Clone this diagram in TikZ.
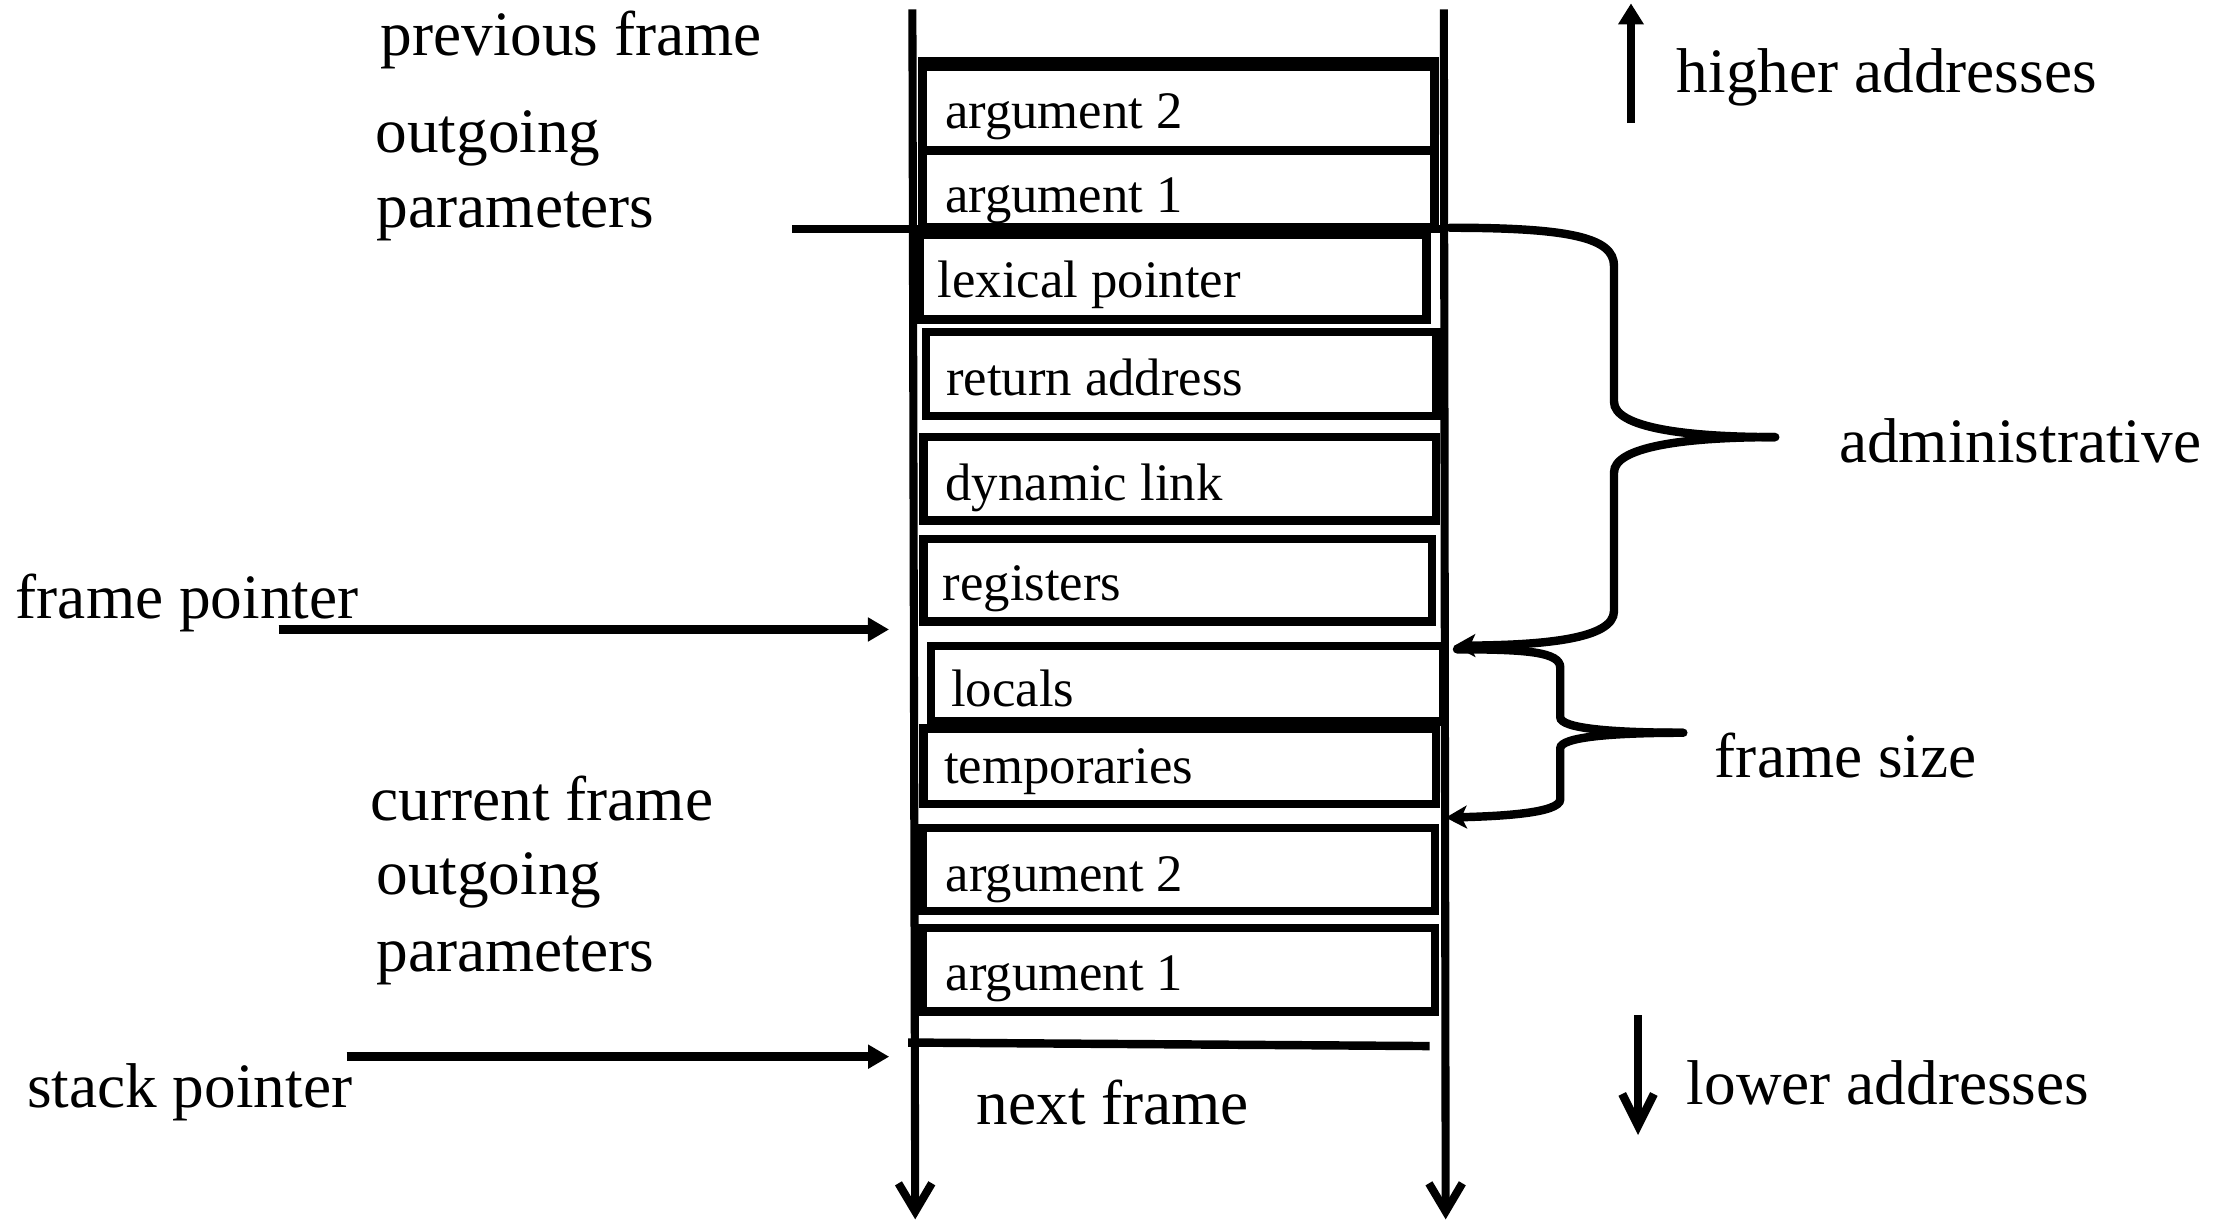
\documentclass[tikz,border=0pt]{standalone}
\usepackage{fontspec}
\setmainfont{Liberation Serif}
\usetikzlibrary{arrows.meta}
\begin{document}
\begin{tikzpicture}[x=0.014145cm,y=-0.014145cm,
  rail/.style={line width=2.3pt,-{Straight Barb[length=8pt,width=9.5pt]}},
  boxline/.style={line width=2.4pt},
  bigtxt/.style={font=\fontsize{18}{21}\selectfont, inner sep=0pt, anchor=base west},
  boxtxt/.style={font=\fontsize{15}{18}\selectfont, inner sep=0pt, anchor=base west},
  ptr/.style={line width=2.4pt,-{Triangle[length=6pt,width=6.5pt]}},
  brace/.style={line width=2.4pt,line cap=round},
  bracetip/.style={line width=2.4pt,-{Stealth[length=6pt,width=6.5pt,inset=1.5pt]}}
]
\useasboundingbox (0,0) rectangle (1568,864);

% rails
\coordinate (railLtop) at (645,6.6);
\coordinate (railLbot) at (647,862);
\coordinate (railRtop) at (1020.7,6.6);
\coordinate (railRbot) at (1022,862);
\draw[rail] (railLtop) -- (railLbot);
\draw[rail] (railRtop) -- (railRbot);

% frame slots
\draw[boxline] (649,43) -- (1017,43);
\draw[boxline] (652,47) rectangle (1014,106.5);
\draw[boxline] (652,106.5) rectangle (1014,160.5);
\draw[boxline] (650,166) rectangle (1008.5,226);
\draw[boxline] (654.5,234.5) rectangle (1015.5,294);
\draw[boxline] (653,309) rectangle (1015,368);
\draw[boxline] (653,381) rectangle (1012.5,439.5);
\draw[boxline] (658,456.5) rectangle (1020,510);
\draw[boxline] (653,515) rectangle (1015,568.5);
\draw[boxline] (652,585.5) rectangle (1014.5,644);
\draw[boxline] (652,656) rectangle (1014.5,715);

% divider lines
\coordinate (divL) at (560,162);
\coordinate (divR) at (1022,162);
\draw[boxline] (divL) -- (divR);
\coordinate (botL) at (642,737);
\coordinate (botR) at (1010.6,739.5);
\draw[boxline] (botL) -- (botR);

% slot labels
\node[boxtxt] (a2t) at (667.7,91) {argument 2};
\node[boxtxt] (a1t) at (667.7,150) {argument 1};
\node[boxtxt] (lex) at (662.5,210.5) {lexical pointer};
\node[boxtxt] (ret) at (668.3,279.5) {return address};
\node[boxtxt] (dyn) at (668,353.5) {dynamic link};
\node[boxtxt] (reg) at (666,424.5) {registers};
\node[boxtxt] (loc) at (672,499.5) {locals};
\node[boxtxt] (tmp) at (667,554) {temporaries};
\node[boxtxt] (a2b) at (668,630) {argument 2};
\node[boxtxt] (a1b) at (668,700) {argument 1};

% outer labels
\node[bigtxt] (prev) at (268.6,38.9) {previous frame};
\node[bigtxt] (out1) at (265,108) {outgoing};
\node[bigtxt] (par1) at (266,161) {parameters};
\node[bigtxt] (fp) at (10.7,437) {frame pointer};
\node[bigtxt] (cur) at (261.5,580) {current frame};
\node[bigtxt] (out2) at (265.6,632) {outgoing};
\node[bigtxt] (par2) at (265.6,687) {parameters};
\node[bigtxt] (sp) at (18.7,783) {stack pointer};
\node[bigtxt] (next) at (690,795) {next frame};
\node[bigtxt] (high) at (1185,65.5) {higher addresses};
\node[bigtxt] (low) at (1192,781) {lower addresses};
\node[bigtxt] (admin) at (1299.6,327) {administrative};
\node[bigtxt] (fsize) at (1211.8,549.5) {frame size};

% pointer arrows
\coordinate (fpS) at (197,445);
\coordinate (fpE) at (628.5,445);
\draw[ptr] (fpS) -- (fpE);
\coordinate (spS) at (245,747);
\coordinate (spE) at (628.6,747);
\draw[ptr] (spS) -- (spE);

% address direction arrows
\coordinate (upS) at (1153,87);
\coordinate (upE) at (1153,2.4);
\draw[line width=2.4pt,-{Triangle[length=6pt,width=7pt]}] (upS) -- (upE);
\coordinate (dnS) at (1158,717.6);
\coordinate (dnE) at (1158,802.4);
\draw[line width=2.4pt,-{Straight Barb[length=9pt,width=9pt]}] (dnS) -- (dnE);

% administrative brace
\coordinate (adS) at (1025,161);
\coordinate (adTip) at (1255,309);
\coordinate (adE) at (1028,456.5);
\draw[brace] (adS) .. controls (1110,161) and (1141,168) .. (1141,188)
  -- (1141,284) .. controls (1141,302) and (1190,309) .. (adTip);
\draw[bracetip] (adTip) .. controls (1190,309) and (1141,316) .. (1141,334)
  -- (1141,432) .. controls (1141,452) and (1090,456) .. (adE);

% frame size brace
\coordinate (fsS) at (1030,459);
\coordinate (fsTip) at (1190,518);
\coordinate (fsE) at (1022,578);
\draw[brace] (fsS) .. controls (1080,459) and (1103,461) .. (1103,472)
  -- (1103,507) .. controls (1103,515) and (1140,518) .. (fsTip);
\draw[bracetip] (fsTip) .. controls (1140,518) and (1103,521) .. (1103,529)
  -- (1103,565) .. controls (1103,575) and (1060,577) .. (fsE);
\end{tikzpicture}
\end{document}
